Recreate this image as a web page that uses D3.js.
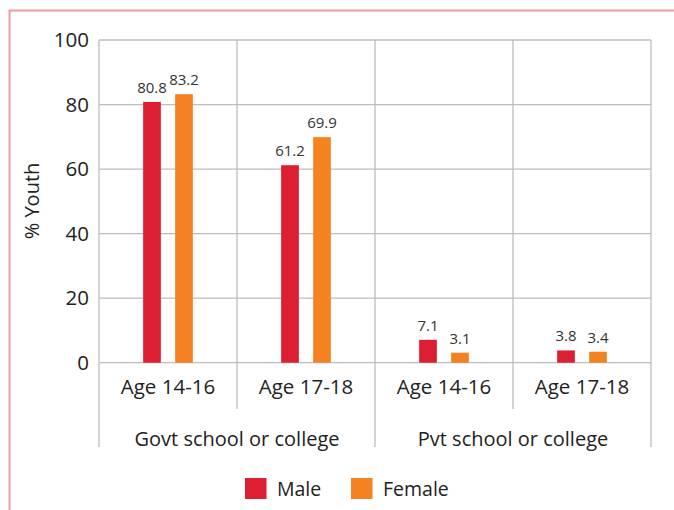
<!DOCTYPE html>
<html>
<head>
<meta charset="utf-8">
<script src="https://cdn.jsdelivr.net/npm/d3@7"></script>
<style>
  html, body { margin: 0; padding: 0; background: #fff; }
  svg { display: block; font-family: "Open Sans", "Noto Sans", sans-serif; }
</style>
</head>
<body>
<svg id="chart" width="674" height="510"></svg>
<script>
const groups = ["Govt school or college", "Pvt school or college"];
const ages = ["Age 14-16", "Age 17-18"];
const categories = ["Govt|Age 14-16", "Govt|Age 17-18", "Pvt|Age 14-16", "Pvt|Age 17-18"];
const seriesNames = ["Male", "Female"];
const maleValues = [80.8, 61.2, 7.1, 3.8];
const femaleValues = [83.2, 69.9, 3.1, 3.4];
const yTicks = [0, 20, 40, 60, 80, 100];
const colors = ["#dc1f33", "#f58220"];

const svg = d3.select("#chart");
const plotLeft = 99, plotRight = 651, plotTop = 40, plotBottom = 362.7;
const textColor = "#222";

// frame border
svg.append("path")
  .attr("d", `M9.5,510 V10.5 H674`)
  .attr("fill", "none").attr("stroke", "#f29aa2").attr("stroke-width", 2);

const y = d3.scaleLinear().domain([0, 100]).range([plotBottom, plotTop]);
const x = d3.scaleBand().domain(categories).range([plotLeft, plotRight]);
const xs = d3.scaleBand().domain(seriesNames).range([-32, 32]);

const gridColor = "#bdbdbd";

// horizontal gridlines
svg.append("g").selectAll("line").data(yTicks).join("line")
  .attr("x1", plotLeft).attr("x2", plotRight)
  .attr("y1", d => y(d)).attr("y2", d => y(d))
  .attr("stroke", gridColor).attr("stroke-width", 1.3);

// y tick labels
svg.append("g").selectAll("text").data(yTicks).join("text")
  .attr("x", 89).attr("y", d => y(d)).attr("dy", "0.35em")
  .attr("text-anchor", "end").attr("font-size", 20.5).attr("fill", textColor)
  .text(d => d);

// vertical dividers
const boundaries = d3.range(categories.length + 1).map(i => plotLeft + i * x.step());
svg.append("g").selectAll("line").data(boundaries).join("line")
  .attr("x1", d => d).attr("x2", d => d)
  .attr("y1", plotTop)
  .attr("y2", (d, i) => (i % 2 === 0) ? 447 : 409)
  .attr("stroke", gridColor).attr("stroke-width", 1.3);

// bars
const data = [];
categories.forEach((c, i) => {
  data.push({ cat: c, s: "Male", v: maleValues[i], color: colors[0] });
  data.push({ cat: c, s: "Female", v: femaleValues[i], color: colors[1] });
});
const bw = 17.7;
const cx = d => x(d.cat) + x.bandwidth() / 2 + xs(d.s) + xs.bandwidth() / 2;
svg.append("g").selectAll("rect").data(data).join("rect")
  .attr("x", d => cx(d) - bw / 2)
  .attr("y", d => y(d.v))
  .attr("width", bw)
  .attr("height", d => y(0) - y(d.v))
  .attr("fill", d => d.color);

// value labels
svg.append("g").selectAll("text").data(data).join("text")
  .attr("x", d => cx(d))
  .attr("y", d => y(d.v) - 9)
  .attr("text-anchor", "middle").attr("font-size", 15).attr("fill", "#333")
  .text(d => d.v.toFixed(1));

// category labels
svg.append("g").selectAll("text").data(categories).join("text")
  .attr("x", d => x(d) + x.bandwidth() / 2).attr("y", 394)
  .attr("text-anchor", "middle").attr("font-size", 20.5).attr("fill", textColor)
  .text(d => d.split("|")[1]);

// group labels
svg.append("g").selectAll("text").data(groups).join("text")
  .attr("x", (d, i) => plotLeft + (i * 2 + 1) * x.step())
  .attr("y", 446)
  .attr("text-anchor", "middle").attr("font-size", 20).attr("fill", textColor)
  .text(d => d);

// y-axis title
svg.append("text")
  .attr("transform", "translate(39,201) rotate(-90)")
  .attr("text-anchor", "middle").attr("font-size", 20).attr("fill", textColor)
  .text("% Youth");

// legend
const legendItems = [{ name: "Male", x: 245 }, { name: "Female", x: 351 }];
const lg = svg.append("g").selectAll("g").data(legendItems).join("g")
  .attr("transform", d => `translate(${d.x},478)`);
lg.append("rect").attr("width", 21.5).attr("height", 21).attr("fill", (d, i) => colors[i]);
lg.append("text").attr("x", 32).attr("y", 18)
  .attr("font-size", 19.5).attr("fill", textColor).text(d => d.name);
</script>
</body>
</html>
